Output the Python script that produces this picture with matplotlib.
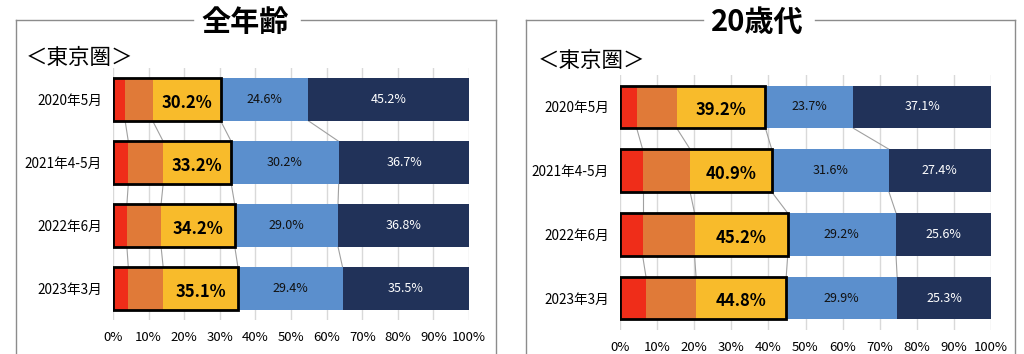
import matplotlib
matplotlib.use("Agg")
import matplotlib.pyplot as plt
from matplotlib.lines import Line2D
import numpy as np

plt.rcParams['font.family'] = ['Noto Sans CJK JP', 'DejaVu Sans']

periods = ['2020年5月', '2021年4-5月', '2022年6月', '2023年3月']
xticks = [0, 10, 20, 30, 40, 50, 60, 70, 80, 90, 100]

# 全年齢
all_red = [3.4, 4.3, 3.9, 4.3]
all_orange = [7.7, 9.8, 9.6, 9.8]
all_top3 = [30.2, 33.2, 34.2, 35.1]
all_blue = [24.6, 30.2, 29.0, 29.4]
all_navy = [45.2, 36.7, 36.8, 35.5]

# 20歳代
age20_red = [4.5, 6.1, 6.1, 7.0]
age20_orange = [10.8, 12.8, 14.0, 13.5]
age20_top3 = [39.2, 40.9, 45.2, 44.8]
age20_blue = [23.7, 31.6, 29.2, 29.9]
age20_navy = [37.1, 27.4, 25.6, 25.3]

c_red = '#EF2D19'
c_orange = '#E07A38'
c_yellow = '#F8BB2B'
c_blue = '#5B8FCD'
c_navy = '#213259'

W, H = 1024, 354
fig = plt.figure(figsize=(W / 100, H / 100), dpi=100)


def px(x, y):
    return x / W, 1 - y / H


def draw_panel(rect, red, orange, top3, blue, navy):
    ax = fig.add_axes(rect)
    red = np.array(red)
    orange = np.array(orange)
    top3 = np.array(top3)
    blue = np.array(blue)
    navy = np.array(navy)
    yellow = top3 - red - orange
    y = np.arange(len(periods))
    h = 0.67

    ax.barh(y, red, height=h, color=c_red, zorder=2)
    ax.barh(y, orange, left=red, height=h, color=c_orange, zorder=2)
    ax.barh(y, yellow, left=red + orange, height=h, color=c_yellow, zorder=2)
    ax.barh(y, blue, left=top3, height=h, color=c_blue, zorder=2)
    ax.barh(y, navy, left=top3 + blue, height=h, color=c_navy, zorder=2)
    # thick frame around the first three segments
    ax.barh(y, top3, height=h, color='none', edgecolor='black', linewidth=2, zorder=3)

    # series lines between bars
    bounds = [red, red + orange, top3, top3 + blue]
    for b in bounds:
        for i in range(len(y) - 1):
            ax.plot([b[i], b[i + 1]], [y[i] + h / 2, y[i + 1] - h / 2],
                    color='#a0a0a0', lw=0.8, zorder=1)

    for i in y:
        ax.text((red[i] + orange[i] + top3[i]) / 2, i + 0.05, f'{top3[i]:.1f}%',
                ha='center', va='center', fontsize=12, fontweight='bold',
                color='black', zorder=4)
        ax.text(top3[i] + blue[i] / 2, i, f'{blue[i]:.1f}%',
                ha='center', va='center', fontsize=9, color='#111111', zorder=4)
        ax.text(top3[i] + blue[i] + navy[i] / 2, i, f'{navy[i]:.1f}%',
                ha='center', va='center', fontsize=9, color='white', zorder=4)

    ax.set_xlim(0, 100)
    ax.set_ylim(len(y) - 0.5, -0.5)
    ax.set_xticks(xticks)
    ax.set_xticklabels([f'{t}%' for t in xticks], fontsize=9.5)
    ax.set_yticks(y)
    ax.set_yticklabels(periods, fontsize=9.8)
    ax.tick_params(length=0, pad=8)
    ax.tick_params(axis='x', pad=8)
    ax.grid(axis='x', color='#d9d9d9', lw=1, zorder=0)
    ax.set_axisbelow(True)
    for s in ax.spines.values():
        s.set_visible(False)
    return ax


draw_panel([113 / W, 1 - 320 / H, 356 / W, 252 / H],
           all_red, all_orange, all_top3, all_blue, all_navy)
draw_panel([620 / W, 1 - 330 / H, 371 / W, 255 / H],
           age20_red, age20_orange, age20_top3, age20_blue, age20_navy)


def frame(x0, x1, gap0, gap1, top=20):
    kw = dict(color='#8c8c8c', lw=1, transform=fig.transFigure)
    for xs, ys in [((x0, x0), (top, H + 5)), ((x1, x1), (top, H + 5)),
                   ((x0, gap0), (top, top)), ((gap1, x1), (top, top))]:
        fig.add_artist(Line2D([xs[0] / W, xs[1] / W], [1 - ys[0] / H, 1 - ys[1] / H], **kw))


frame(16, 496, 193, 301)
frame(526, 1015, 703, 815)

fig.text(*px(245, 22), '全年齢', ha='center', va='center', fontsize=21, fontweight='bold')
fig.text(*px(757, 22), '20歳代', ha='center', va='center', fontsize=21, fontweight='bold')
fig.text(*px(26, 58), '＜東京圏＞', ha='left', va='center', fontsize=15.5)
fig.text(*px(538, 61), '＜東京圏＞', ha='left', va='center', fontsize=15.5)

fig.savefig('out.png', dpi=100, facecolor='white')
